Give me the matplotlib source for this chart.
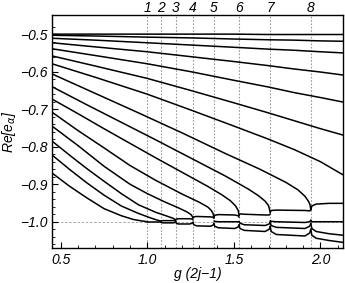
import matplotlib

matplotlib.use("Agg")
import matplotlib.pyplot as plt

# collision points g(2j-1) marked by the dashed lines
collision_g = [1.0, 1.077, 1.164, 1.264, 1.385, 1.53, 1.71, 1.944]
collision_labels = ["1", "2", "3", "4", "5", "6", "7", "8"]

# real roots that stay above the cluster in the whole range
upper_g = [0.45, 0.7, 1.0, 1.25, 1.5, 1.7, 1.85, 2.0, 2.13]
upper_roots = [
    [-0.500, -0.500, -0.500, -0.500, -0.500, -0.501, -0.501, -0.501, -0.501],
    [-0.503, -0.505, -0.508, -0.510, -0.513, -0.515, -0.516, -0.518, -0.519],
    [-0.511, -0.516, -0.523, -0.529, -0.535, -0.540, -0.543, -0.547, -0.550],
    [-0.523, -0.534, -0.547, -0.560, -0.573, -0.584, -0.593, -0.601, -0.609],
    [-0.539, -0.557, -0.579, -0.600, -0.623, -0.641, -0.656, -0.669, -0.681],
    [-0.558, -0.585, -0.618, -0.650, -0.683, -0.710, -0.731, -0.752, -0.769],
    [-0.579, -0.615, -0.660, -0.702, -0.745, -0.780, -0.808, -0.840, -0.875],
]

# real roots that fall into the cluster at -1, one per dashed line
falling_g = [
    [0.45, 0.55, 0.65, 0.75, 0.85, 0.92, 0.97, 1.0],
    [0.45, 0.55, 0.65, 0.75, 0.85, 0.95, 1.02, 1.06, 1.077],
    [0.45, 0.55, 0.65, 0.75, 0.85, 0.95, 1.05, 1.12, 1.15, 1.164],
    [0.45, 0.6, 0.75, 0.9, 1.0, 1.1, 1.18, 1.23, 1.255, 1.264],
    [0.45, 0.6, 0.75, 0.9, 1.05, 1.2, 1.3, 1.35, 1.37, 1.38, 1.385],
    [0.45, 0.6, 0.75, 0.9, 1.05, 1.2, 1.35, 1.43, 1.48, 1.51, 1.525, 1.53],
    [0.45, 0.65, 0.85, 1.05, 1.25, 1.45, 1.58, 1.64, 1.68, 1.70, 1.71],
    [0.45, 0.7, 0.95, 1.2, 1.45, 1.65, 1.8, 1.87, 1.91, 1.93, 1.94, 1.944],
]
falling_roots = [
    [-0.870, -0.905, -0.936, -0.965, -0.984, -0.994, -0.998, -1.000],
    [-0.822, -0.860, -0.896, -0.929, -0.958, -0.978, -0.990, -0.996, -0.998],
    [-0.785, -0.822, -0.858, -0.892, -0.925, -0.955, -0.975, -0.986, -0.991, -0.995],
    [-0.745, -0.797, -0.852, -0.900, -0.925, -0.947, -0.963, -0.974, -0.982, -0.990],
    [-0.708, -0.757, -0.803, -0.850, -0.890, -0.926, -0.948, -0.961, -0.970, -0.978, -0.988],
    [-0.673, -0.712, -0.752, -0.791, -0.830, -0.868, -0.906, -0.928, -0.944, -0.958, -0.970, -0.983],
    [-0.640, -0.688, -0.735, -0.782, -0.830, -0.878, -0.912, -0.930, -0.945, -0.957, -0.975],
    [-0.606, -0.658, -0.710, -0.763, -0.818, -0.860, -0.895, -0.915, -0.932, -0.945, -0.955, -0.968],
]

# real parts of the collapsed roots near -1, one list per lens between dashed lines
cluster_g = [
    [1.0, 1.077],
    [1.077, 1.081, 1.09, 1.15, 1.16, 1.164],
    [1.077, 1.081, 1.09, 1.15, 1.16, 1.164],
    [1.164, 1.168, 1.18, 1.245, 1.259, 1.264],
    [1.164, 1.168, 1.18, 1.245, 1.259, 1.264],
    [1.264, 1.268, 1.285, 1.365, 1.38, 1.385],
    [1.264, 1.268, 1.285, 1.365, 1.38, 1.385],
    [1.385, 1.389, 1.41, 1.505, 1.525, 1.53],
    [1.385, 1.389, 1.41, 1.505, 1.525, 1.53],
    [1.385, 1.389, 1.41, 1.505, 1.525, 1.53],
    [1.53, 1.535, 1.56, 1.68, 1.704, 1.71],
    [1.53, 1.535, 1.56, 1.68, 1.704, 1.71],
    [1.53, 1.535, 1.56, 1.68, 1.704, 1.71],
    [1.71, 1.715, 1.745, 1.91, 1.938, 1.944],
    [1.71, 1.715, 1.745, 1.91, 1.938, 1.944],
    [1.71, 1.715, 1.745, 1.91, 1.938, 1.944],
    [1.71, 1.715, 1.745, 1.91, 1.938, 1.944],
    [1.944, 1.95, 1.975, 2.05, 2.13],
    [1.944, 1.95, 1.975, 2.05, 2.13],
    [1.944, 1.95, 1.975, 2.05, 2.13],
    [1.944, 1.95, 1.975, 2.05, 2.13],
]
cluster_roots = [
    [-1.000, -1.000],
    [-0.999, -0.998, -0.997, -0.997, -0.997, -0.998],
    [-1.000, -1.002, -1.003, -1.003, -1.002, -1.000],
    [-0.995, -0.993, -0.992, -0.992, -0.993, -0.995],
    [-1.000, -1.004, -1.006, -1.006, -1.004, -1.001],
    [-0.990, -0.987, -0.986, -0.987, -0.988, -0.991],
    [-1.002, -1.008, -1.011, -1.012, -1.009, -1.004],
    [-0.988, -0.983, -0.981, -0.982, -0.984, -0.988],
    [-0.998, -0.999, -1.000, -1.000, -1.000, -1.000],
    [-1.004, -1.012, -1.016, -1.018, -1.014, -1.008],
    [-0.983, -0.979, -0.980, -0.982, -0.982, -0.979],
    [-1.000, -1.004, -1.008, -1.010, -1.006, -1.000],
    [-1.008, -1.018, -1.023, -1.026, -1.020, -1.012],
    [-0.975, -0.970, -0.969, -0.970, -0.971, -0.968],
    [-0.997, -0.999, -1.000, -1.002, -1.000, -0.996],
    [-1.000, -1.010, -1.015, -1.018, -1.012, -1.004],
    [-1.012, -1.026, -1.034, -1.038, -1.030, -1.020],
    [-0.968, -0.958, -0.953, -0.951, -0.951],
    [-0.996, -1.000, -1.000, -1.000, -1.000],
    [-1.004, -1.018, -1.026, -1.032, -1.036],
    [-1.020, -1.036, -1.044, -1.050, -1.055],
]

x_ticks = [0.5, 1.0, 1.5, 2.0]
y_ticks = [-0.5, -0.6, -0.7, -0.8, -0.9, -1.0]

plt.rcParams["font.family"] = ["Liberation Sans", "DejaVu Sans"]

fig = plt.figure(figsize=(3.45, 2.83), dpi=100)
ax = fig.add_axes([52 / 345, 35 / 283, 291 / 345, 233 / 283])

line_kw = dict(color="black", linewidth=1.1, solid_capstyle="round", solid_joinstyle="round")
for roots in upper_roots:
    ax.plot(upper_g, roots, **line_kw)
for gs, roots in zip(falling_g, falling_roots):
    ax.plot(gs, roots, **line_kw)
for gs, roots in zip(cluster_g, cluster_roots):
    ax.plot(gs, roots, **line_kw)

for g in collision_g:
    ax.axvline(g, color="#9a9a9a", linestyle=(0, (1.5, 1.5)), linewidth=0.8, zorder=0)
ax.axhline(-1.0, color="#9a9a9a", linestyle=(0, (3, 2)), linewidth=0.6, zorder=0)

ax.set_xlim(0.45, 2.13)
ax.set_ylim(-1.07, -0.449)
ax.set_xticks(x_ticks)
ax.set_xticklabels([f"{t:.1f}" for t in x_ticks], fontstyle="italic")
ax.set_yticks(y_ticks)
ax.set_yticklabels([f"\u2212{abs(t):.1f}" for t in y_ticks], fontstyle="italic")
ax.set_xticks([0.6, 0.7, 0.8, 0.9, 1.1, 1.2, 1.3, 1.4, 1.6, 1.7, 1.8, 1.9, 2.1], minor=True)
ax.set_yticks([-0.48, -0.52, -0.54, -0.56, -0.58, -0.62, -0.64, -0.66, -0.68,
               -0.72, -0.74, -0.76, -0.78, -0.82, -0.84, -0.86, -0.88,
               -0.92, -0.94, -0.96, -0.98, -1.02, -1.04, -1.06], minor=True)
ax.tick_params(direction="in", labelsize=10, length=4, width=0.8)
ax.tick_params(which="minor", direction="in", length=2, width=0.6)
for spine in ax.spines.values():
    spine.set_linewidth(1.0)

for g, lab in zip(collision_g, collision_labels):
    ax.text(g, -0.449, lab, ha="center", va="bottom", fontsize=10, fontstyle="italic",
            transform=ax.transData)

ax.set_xlabel("g (2j\u22121)", fontsize=10, fontstyle="italic", labelpad=0)
ax.set_ylabel(r"Re[e$_{\alpha}$]", fontsize=10, fontstyle="italic", labelpad=1)

fig.savefig("out.png", dpi=100)
